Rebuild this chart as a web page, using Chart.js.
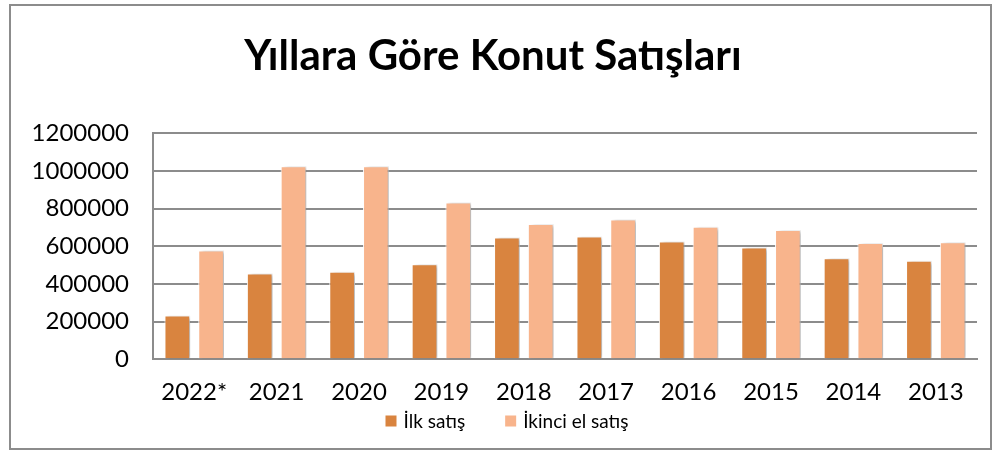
<!DOCTYPE html>
<html>
<head>
<meta charset="utf-8">
<script src="https://cdn.jsdelivr.net/npm/chart.js@4.4.1/dist/chart.umd.min.js"></script>
<style>
  html, body { margin: 0; padding: 0; background: #fff; }
  #frame { position: absolute; left: 9px; top: 4px; width: 979px; height: 442px; border: 2px solid #8c8c8c; }
  #wrap { position: absolute; left: 0; top: 0; width: 996px; height: 450px; }
</style>
</head>
<body>
<div id="frame"></div>
<div id="wrap"><canvas id="salesChart"></canvas></div>
<script>
// Konut satışları (adet), okunan değerler
const years = ['2022*', '2021', '2020', '2019', '2018', '2017', '2016', '2015', '2014', '2013'];
const firstSales = [232000, 456000, 465000, 505000, 647000, 652000, 626000, 594000, 537000, 523000];
const secondHandSales = [578000, 1026000, 1026000, 833000, 718000, 743000, 704000, 686000, 617000, 622000];

const FONT = 'Lato, "Open Sans", sans-serif';

// soft shadow behind the bars, like the office chart style
const barShadow = {
    id: 'barShadow',
    beforeDatasetsDraw(chart) {
        const ctx = chart.ctx;
        ctx.save();
        ctx.shadowColor = 'rgba(0,0,0,0.28)';
        ctx.shadowBlur = 4;
        ctx.shadowOffsetX = 4;
        ctx.shadowOffsetY = 1;
    },
    afterDatasetsDraw(chart) {
        chart.ctx.restore();
    }
};

// the built-in legend ties the item gap to its vertical padding,
// so draw a small one ourselves from the dataset labels/colours
const bottomLegend = {
    id: 'bottomLegend',
    afterDraw(chart, args, opts) {
        const ctx = chart.ctx;
        const box = opts.boxSize, gap = opts.gap, textGap = opts.textGap;
        ctx.save();
        ctx.font = opts.fontSize + 'px ' + FONT;
        ctx.textBaseline = 'middle';
        ctx.textAlign = 'left';
        const items = chart.data.datasets.map(ds => ({
            text: ds.label,
            color: ds.backgroundColor,
            w: box + textGap + ctx.measureText(ds.label).width
        }));
        const total = items.reduce((s, it) => s + it.w, 0) + gap * (items.length - 1);
        let x = opts.centerX - total / 2;
        const y = opts.y;
        items.forEach(it => {
            ctx.fillStyle = it.color;
            ctx.fillRect(x, y - box / 2, box, box);
            ctx.fillStyle = '#000';
            ctx.fillText(it.text, x + box + textGap, y + 1);
            x += it.w + gap;
        });
        ctx.restore();
    }
};

const ctx = document.getElementById('salesChart').getContext('2d');
new Chart(ctx, {
    type: 'bar',
    data: {
        labels: years,
        datasets: [{
            label: 'İlk satış',
            data: firstSales,
            backgroundColor: '#D9843F',
            borderColor: '#ffffff',
            borderWidth: 1
        }, {
            label: 'İkinci el satış',
            data: secondHandSales,
            backgroundColor: '#F8B48C',
            borderColor: '#ffffff',
            borderWidth: 1
        }]
    },
    options: {
        responsive: true,
        maintainAspectRatio: false,
        animation: false,
        categoryPercentage: 0.82,
        barPercentage: 0.76,
        layout: { padding: { left: 9, right: 19, top: 0, bottom: 24 } },
        plugins: {
            title: {
                display: true,
                text: 'Yıllara Göre Konut Satışları',
                color: '#000',
                font: { family: FONT, size: 42, weight: 'bold' },
                padding: { top: 31, bottom: 52 }
            },
            legend: { display: false },
            bottomLegend: { centerX: 507, y: 421, boxSize: 11, gap: 40, textGap: 7, fontSize: 19 },
            tooltip: { enabled: false }
        },
        scales: {
            x: {
                grid: { display: false, drawTicks: false },
                border: { color: '#8c8c8c', width: 2 },
                ticks: { color: '#000', font: { family: FONT, size: 24 }, padding: 19, maxRotation: 0 }
            },
            y: {
                min: 0,
                max: 1200000,
                afterFit(scale) { scale.width = 144; },
                grid: { color: '#8c8c8c', lineWidth: 2, drawTicks: false },
                border: { color: '#8c8c8c', width: 2 },
                ticks: {
                    color: '#000',
                    font: { family: FONT, size: 24 },
                    stepSize: 200000,
                    padding: 24,
                    callback: v => String(v)
                }
            }
        }
    },
    plugins: [barShadow, bottomLegend]
});
</script>
</body>
</html>
